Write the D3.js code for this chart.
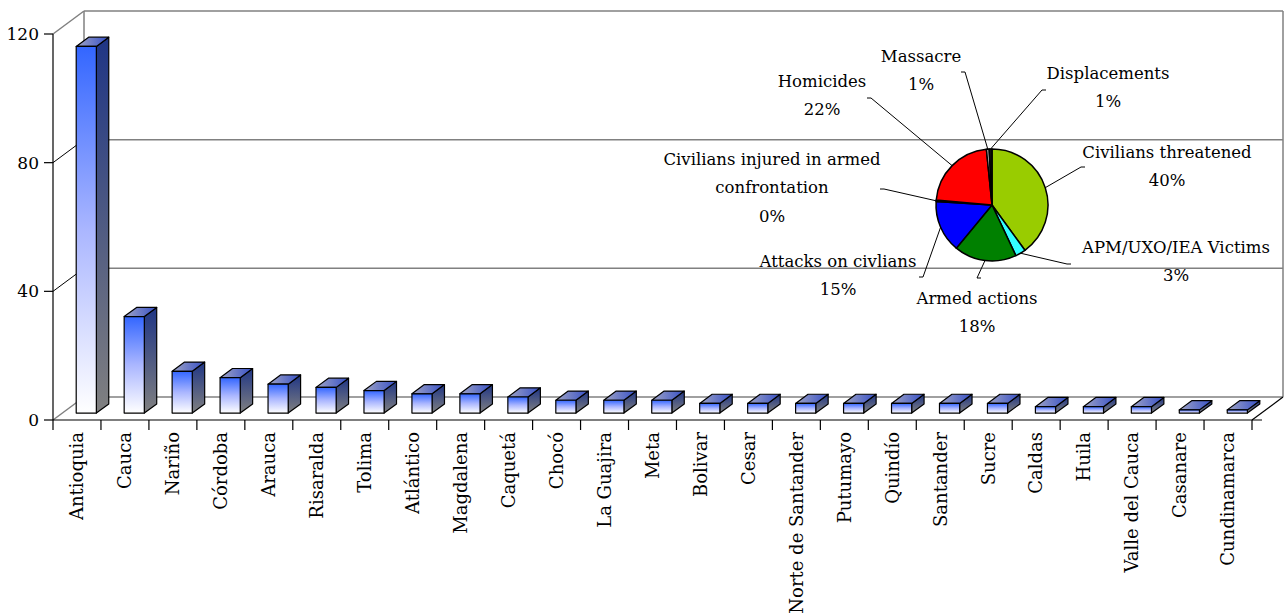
<!DOCTYPE html>
<html>
<head>
<meta charset="utf-8">
<script src="https://cdn.jsdelivr.net/npm/d3@7"></script>
<style>
  body { margin: 0; background: #fff; }
  text { font-family: "DejaVu Serif", serif; fill: #000; }
</style>
</head>
<body>
<div id="chart"></div>
<script>
// bar chart data
var departments = ["Antioquia", "Cauca", "Nariño", "Córdoba", "Arauca", "Risaralda", "Tolima",
  "Atlántico", "Magdalena", "Caquetá", "Chocó", "La Guajira", "Meta", "Bolivar", "Cesar",
  "Norte de Santander", "Putumayo", "Quindío", "Santander", "Sucre", "Caldas", "Huila",
  "Valle del Cauca", "Casanare", "Cundinamarca"];
var incidents = [114, 30, 13, 11, 9, 8, 7, 6, 6, 5, 4, 4, 4, 3, 3, 3, 3, 3, 3, 3, 2, 2, 2, 1, 1];
var yTicks = [0, 40, 80, 120];

// pie data (share of events, %)
var pieCategories = ["Civilians threatened", "APM/UXO/IEA Victims", "Armed actions",
  "Attacks on civlians", "Civilians injured in armed confrontation", "Homicides",
  "Massacre", "Displacements"];
var pieValues = [40, 3, 18, 15, 0.4, 22, 0.8, 0.8];
var pieColors = ["#99cc00", "#33ffff", "#008000", "#0000ff", "#222222", "#ff0000", "#bbbbbb", "#111111"];

var W = 1288, H = 614;
var x0 = 53, x1 = 1252, depthX = 31, depthY = -23;

var svg = d3.select("#chart").append("svg")
  .attr("width", W).attr("height", H);

var defs = svg.append("defs");
function grad(id, stops, horiz) {
  var g = defs.append("linearGradient").attr("id", id)
    .attr("x1", 0).attr("y1", 0).attr("x2", horiz ? 1 : 0).attr("y2", horiz ? 0 : 1);
  stops.forEach(function (s) { g.append("stop").attr("offset", s[0]).attr("stop-color", s[1]); });
}
grad("gFront", [[0, "#3366ff"], [0.5, "#aab6ff"], [1, "#ffffff"]]);
grad("gSide", [[0, "#1f3585"], [1, "#808080"]]);
grad("gTop", [[0, "#a0a4c4"], [1, "#3650c8"]], true);

var x = d3.scaleBand().domain(departments).range([x0, x1]);
var y = d3.scaleLinear().domain([0, 120]).range([420, 34]);

/* walls */
var walls = svg.append("g").attr("stroke", "#808080").attr("stroke-width", 1.5).attr("fill", "none");
yTicks.forEach(function (t) {
  walls.append("line")
    .attr("x1", x0 + depthX).attr("x2", x1 + depthX)
    .attr("y1", y(t) + depthY).attr("y2", y(t) + depthY);
  walls.append("line")
    .attr("x1", x0).attr("y1", y(t))
    .attr("x2", x0 + depthX).attr("y2", y(t) + depthY)
    .attr("stroke", (t == 0 || t == 120) ? "#808080" : "#000")
    .attr("stroke-width", (t == 0 || t == 120) ? 1.5 : 1);
});
[x0 + depthX, x1 + depthX].forEach(function (xx) {
  walls.append("line").attr("x1", xx).attr("x2", xx)
    .attr("y1", y(120) + depthY).attr("y2", y(0) + depthY);
});

/* axes */
var ax = svg.append("g").attr("stroke", "#000").attr("stroke-width", 1.2);
ax.append("line").attr("x1", x1).attr("y1", y(0)).attr("x2", x1 + depthX).attr("y2", y(0) + depthY);
ax.append("line").attr("x1", x0).attr("x2", x0).attr("y1", y(120)).attr("y2", y(0) + 10);
ax.append("line").attr("x1", x0).attr("x2", x1 + 10).attr("y1", y(0)).attr("y2", y(0));
yTicks.forEach(function (t) {
  ax.append("line").attr("x1", x0 - 9).attr("x2", x0).attr("y1", y(t)).attr("y2", y(t));
});
departments.forEach(function (d) {
  var xe = x(d) + x.bandwidth();
  ax.append("line").attr("x1", xe).attr("x2", xe).attr("y1", y(0)).attr("y2", y(0) + 10);
});

svg.append("g").selectAll("text").data(yTicks).enter().append("text")
  .attr("x", x0 - 14).attr("y", function (d) { return y(d); })
  .attr("dy", "0.35em").attr("text-anchor", "end")
  .style("font-size", "17px")
  .text(function (d) { return d; });

svg.append("g").selectAll("text").data(departments).enter().append("text")
  .attr("transform", function (d) {
    return "translate(" + (x(d) + x.bandwidth() / 2) + "," + (y(0) + 12) + ") rotate(-90)";
  })
  .attr("dy", "0.35em").attr("text-anchor", "end")
  .style("font-size", "18px")
  .text(function (d) { return d; });

/* 3d bars */
var bw = x.bandwidth() * 0.42;
var fShiftX = depthX * 0.3, fShiftY = depthY * 0.3;
var bdx = depthX * 0.4, bdy = depthY * 0.4;

var bars = svg.append("g").selectAll("g").data(departments).enter().append("g")
  .attr("stroke", "#000").attr("stroke-width", 1.2).attr("stroke-linejoin", "round");

bars.each(function (d, i) {
  var g = d3.select(this);
  var xl = x(d) + x.bandwidth() / 2 - bw / 2 + fShiftX, xr = xl + bw;
  var yb = y(0) + fShiftY, yt = y(incidents[i]) + fShiftY;
  g.append("path").attr("fill", "url(#gSide)")
    .attr("d", "M" + xr + "," + yt + "L" + (xr + bdx) + "," + (yt + bdy) + "L" + (xr + bdx) + "," + (yb + bdy) + "L" + xr + "," + yb + "Z");
  g.append("path").attr("fill", "url(#gTop)")
    .attr("d", "M" + xl + "," + yt + "L" + (xl + bdx) + "," + (yt + bdy) + "L" + (xr + bdx) + "," + (yt + bdy) + "L" + xr + "," + yt + "Z");
  g.append("rect").attr("fill", "url(#gFront)")
    .attr("x", xl).attr("y", yt).attr("width", bw).attr("height", yb - yt);
});

/* pie */
var cx = 992, cy = 205, r = 56;
// label placement around the pie: first line centre and leader end, relative to pie centre
var labelPos = [
  { lx: 175, ly: -53, ex: 89, ey: -38 },
  { lx: 184, ly: 42, ex: 75, ey: 59 },
  { lx: -15, ly: 93, ex: -15, ey: 73 },
  { lx: -154, ly: 56, ex: -69, ey: 72 },
  { lx: -220, ly: -46, ex: -108, ey: -16 },
  { lx: -170, ly: -124, ex: -121, ey: -107 },
  { lx: -71, ly: -149, ex: -27, ey: -133 },
  { lx: 116, ly: -132, ex: 50, ey: -115 }
];
var pieLines = [
  ["Civilians threatened"], ["APM/UXO/IEA Victims"], ["Armed actions"], ["Attacks on civlians"],
  ["Civilians injured in armed", "confrontation"], ["Homicides"], ["Massacre"], ["Displacements"]
];

var total = d3.sum(pieValues);
var arcs = d3.pie().sort(null)(pieValues);
var arc = d3.arc().innerRadius(0).outerRadius(r);
var pg = svg.append("g").attr("transform", "translate(" + cx + "," + cy + ")");

pg.selectAll("path.slice").data(arcs).enter().append("path")
  .attr("class", "slice")
  .attr("d", arc)
  .attr("fill", function (d, i) { return pieColors[i]; })
  .attr("stroke", "#000").attr("stroke-width", 1.5).attr("stroke-linejoin", "round");

pg.selectAll("path.leader").data(arcs).enter().append("path")
  .attr("class", "leader")
  .attr("fill", "none").attr("stroke", "#000").attr("stroke-width", 1)
  .attr("d", function (d, i) {
    var a = (d.startAngle + d.endAngle) / 2;
    var px = Math.sin(a) * r, py = -Math.cos(a) * r;
    var p = labelPos[i];
    var dir = p.lx < p.ex ? -4 : 4;
    return "M" + px + "," + py + "L" + p.ex + "," + p.ey + "L" + (p.ex + dir) + "," + p.ey;
  });

pg.selectAll("text.lbl").data(arcs).enter().append("text")
  .attr("class", "lbl")
  .attr("text-anchor", "middle")
  .style("font-size", "16.5px")
  .each(function (d, i) {
    var t = d3.select(this), p = labelPos[i];
    var lines = pieLines[i].concat([Math.round(d.value / total * 100) + "%"]);
    lines.forEach(function (s, k) {
      t.append("tspan").attr("x", p.lx).attr("y", p.ly + k * 28.5).attr("dy", "0.35em").text(s);
    });
  });
</script>
</body>
</html>
